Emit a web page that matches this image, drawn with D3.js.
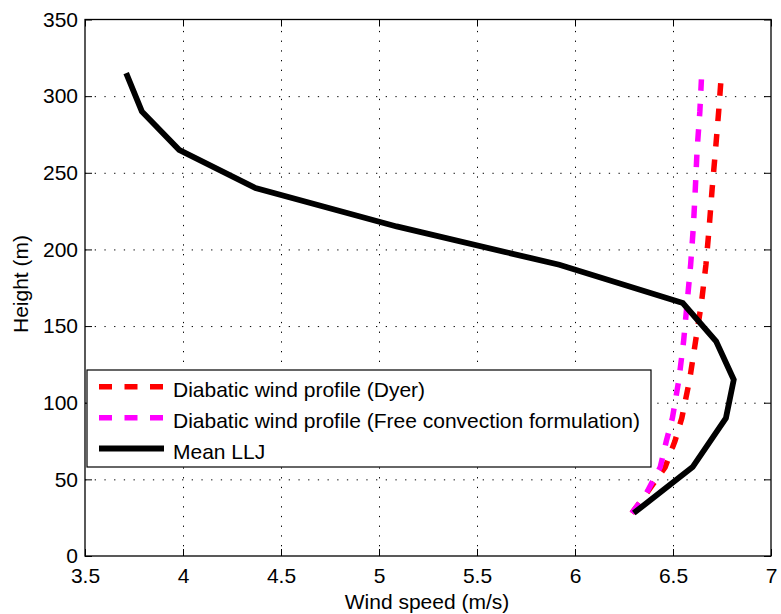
<!DOCTYPE html>
<html>
<head>
<meta charset="utf-8">
<script src="https://cdn.jsdelivr.net/npm/d3@7/dist/d3.min.js"></script>
<style>
  body { margin: 0; background: #fff; }
  svg { display: block; }
  text { font-family: "Liberation Sans", Arial, Helvetica, sans-serif; fill: #000; }
</style>
</head>
<body>
<svg id="chart" width="781" height="614"></svg>
<script>
// ---- data ----
const lljHeights = [315, 290, 265, 240, 215, 190, 165, 140, 115, 90, 58, 28];
const lljSpeeds  = [3.71, 3.79, 3.98, 4.37, 5.09, 5.92, 6.55, 6.72, 6.81, 6.77, 6.60, 6.30];

const profHeights   = [28, 40, 58, 75, 90, 115, 140, 165, 190, 215, 240, 265, 290, 311];
const dyerSpeeds    = [6.29, 6.36, 6.46, 6.51, 6.545, 6.585, 6.615, 6.645, 6.668, 6.685, 6.70, 6.717, 6.733, 6.745];
const freeConvSpeeds= [6.29, 6.36, 6.435, 6.466, 6.497, 6.53, 6.554, 6.572, 6.59, 6.604, 6.614, 6.623, 6.637, 6.645];

const xTicks = [3.5, 4, 4.5, 5, 5.5, 6, 6.5, 7];
const yTicks = [0, 50, 100, 150, 200, 250, 300, 350];
const legendLabels = ["Diabatic wind profile (Dyer)", "Diabatic wind profile (Free convection formulation)", "Mean LLJ"];
const seriesColors = ["#ff0000", "#ff00ff", "#000000"];

// ---- layout ----
const L = 85, R = 771, T = 19.5, B = 556;
const svg = d3.select("#chart");
const x = d3.scaleLinear().domain([3.5, 7]).range([L, R]);
const y = d3.scaleLinear().domain([0, 350]).range([B, T]);
const FS = 21;

// grid
const gridX = svg.append("g").attr("transform", `translate(0,${B})`)
  .call(d3.axisBottom(x).tickValues(xTicks.slice(1, -1)).tickSize(-(B - T)).tickFormat(""));
const gridY = svg.append("g").attr("transform", `translate(${L},0)`)
  .call(d3.axisLeft(y).tickValues(yTicks.slice(1, -1)).tickSize(-(R - L)).tickFormat(""));
[gridX, gridY].forEach(g => {
  g.select(".domain").remove();
  g.selectAll("line").attr("stroke", "#000").attr("stroke-width", 1).attr("stroke-dasharray", "1.3,8.4");
});

// series
const line = d3.line().x(d => x(d[0])).y(d => y(d[1]));
const dyer = profHeights.map((h, i) => [dyerSpeeds[i], h]);
const free = profHeights.map((h, i) => [freeConvSpeeds[i], h]);
const llj = lljHeights.map((h, i) => [lljSpeeds[i], h]);

svg.append("path").datum(dyer).attr("d", line).attr("fill", "none")
  .attr("stroke", seriesColors[0]).attr("stroke-width", 5.5).attr("stroke-dasharray", "12.5,13");
svg.append("path").datum(free).attr("d", line).attr("fill", "none")
  .attr("stroke", seriesColors[1]).attr("stroke-width", 5.5).attr("stroke-dasharray", "12.5,13");
svg.append("path").datum(llj).attr("d", line).attr("fill", "none")
  .attr("stroke", seriesColors[2]).attr("stroke-width", 5.8).attr("stroke-linejoin", "miter");

// axes
function styleAxis(g) {
  g.select(".domain").remove();
  g.selectAll("line").attr("stroke", "#000").attr("stroke-width", 1);
  g.selectAll("text").attr("font-size", FS).attr("font-family", "'Liberation Sans', Arial, sans-serif").attr("fill", "#000");
}
const fmt = d => String(d);
svg.append("g").attr("transform", `translate(0,${B})`)
  .call(d3.axisBottom(x).tickValues(xTicks).tickSize(-7).tickPadding(12).tickFormat(fmt)).call(styleAxis);
svg.append("g").attr("transform", `translate(0,${T})`)
  .call(d3.axisTop(x).tickValues(xTicks).tickSize(-7).tickFormat("")).call(styleAxis);
svg.append("g").attr("transform", `translate(${L},0)`)
  .call(d3.axisLeft(y).tickValues(yTicks).tickSize(-7).tickPadding(7).tickFormat(fmt)).call(styleAxis);
svg.append("g").attr("transform", `translate(${R},0)`)
  .call(d3.axisRight(y).tickValues(yTicks).tickSize(-7).tickFormat("")).call(styleAxis);

// box
svg.append("rect").attr("x", L).attr("y", T).attr("width", R - L).attr("height", B - T)
  .attr("fill", "none").attr("stroke", "#000").attr("stroke-width", 1.3);

// axis labels
svg.append("text").attr("x", 427).attr("y", 609).attr("text-anchor", "middle")
  .attr("font-size", FS).text("Wind speed (m/s)");
svg.append("text").attr("transform", "translate(28,284) rotate(-90)").attr("text-anchor", "middle")
  .attr("font-size", FS).text("Height (m)");

// legend
const lg = svg.append("g");
lg.append("rect").attr("x", 87).attr("y", 370).attr("width", 564).attr("height", 97)
  .attr("fill", "#fff").attr("stroke", "#000").attr("stroke-width", 1.2);
const rowsY = [386.7, 417.7, 448.5];
legendLabels.forEach((lab, i) => {
  lg.append("line").attr("x1", 99).attr("x2", 164).attr("y1", rowsY[i]).attr("y2", rowsY[i])
    .attr("stroke", seriesColors[i]).attr("stroke-width", i === 2 ? 5.8 : 5.5)
    .attr("stroke-dasharray", i === 2 ? null : "13,12.5");
  lg.append("text").attr("x", 173).attr("y", rowsY[i] + 10.5).attr("font-size", FS).text(lab);
});
</script>
</body>
</html>
